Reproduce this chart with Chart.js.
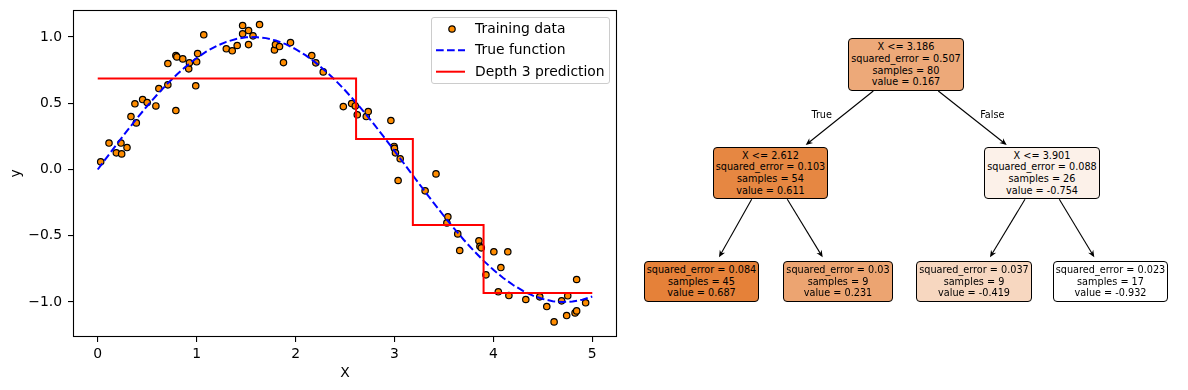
<!DOCTYPE html>
<html><head><meta charset="utf-8">
<script src="https://cdn.jsdelivr.net/npm/chart.js@4.4.0/dist/chart.umd.min.js"></script>
<style>
html,body{margin:0;padding:0;background:#fff;width:1188px;height:390px;overflow:hidden;font-family:"DejaVu Sans",sans-serif;}
#wrap{position:relative;width:1188px;height:390px;}
#c1{position:absolute;left:0;top:0;}
.legend{position:absolute;left:431px;top:17px;width:179px;height:67px;border:1px solid #cccccc;border-radius:3px;background:rgba(255,255,255,0.8);box-sizing:border-box;}
.legend svg{position:absolute;left:0;top:0;}
.legend .lt{position:absolute;left:43px;font-size:13.9px;line-height:16px;color:#000;white-space:nowrap;}
.node{position:absolute;box-sizing:border-box;border:1px solid #000;border-radius:4px;text-align:center;font-size:9.7px;line-height:11.7px;color:#000;display:flex;flex-direction:column;justify-content:center;white-space:nowrap;}
.edge-lbl{position:absolute;font-size:9.7px;line-height:12px;color:#000;transform:translate(-50%,-50%);white-space:nowrap;}
#tree{position:absolute;left:0;top:0;}
</style>
</head>
<body>
<div id="wrap">
  <canvas id="c1" width="630" height="390"></canvas>
  <div class="legend" id="legend"></div>
  <svg id="tree" width="1188" height="390"></svg>
</div>
<script>
// ---------- data ----------
const trainX = [0.03,0.114,0.188,0.235,0.242,0.296,0.336,0.376,0.39,0.454,0.50,0.588,0.618,0.709,0.709,0.79,0.79,0.80,0.86,0.92,0.927,0.991,1.00,1.01,1.072,1.30,1.36,1.41,1.465,1.465,1.525,1.525,1.57,1.636,1.787,1.797,1.838,1.878,1.949,2.164,2.205,2.28,2.483,2.567,2.604,
  2.624,2.715,2.735,2.964,2.997,3.0,3.01,3.037,3.058,
  3.31,3.42,3.53,3.54,3.64,3.66,3.854,3.864,3.878,
  3.925,4.005,4.05,4.076,4.146,4.157,4.328,4.469,4.54,4.614,4.69,4.741,4.752,4.826,4.842,4.842,4.933];
const trainY = [0.058,0.20,0.126,0.20,0.118,0.166,0.40,0.496,0.352,0.528,0.506,0.48,0.611,0.639,0.80,0.445,0.86,0.85,0.835,0.76,0.805,0.632,0.813,0.875,1.017,0.911,0.896,0.936,1.087,1.024,1.049,0.943,1.009,1.094,0.903,0.943,0.928,0.807,0.958,0.86,0.805,0.737,0.475,0.498,0.48,
  0.413,0.40,0.438,0.37,0.174,0.16,0.126,-0.083,0.081,
  -0.161,-0.033,-0.403,-0.357,-0.486,-0.611,-0.538,-0.579,-0.591,
  -0.795,-0.621,-0.923,-0.74,-0.621,-0.951,-0.981,-0.961,-1.034,-1.15,-0.991,-1.102,-0.953,-1.082,-1.067,-0.83,-1.006];
const trueX = [0,0.1,0.2,0.3,0.4,0.5,0.6,0.7,0.8,0.9,1.0,1.1,1.2,1.3,1.4,1.5,1.6,1.7,1.8,1.9,2.0,2.1,2.2,2.3,2.4,2.5,2.6,2.7,2.8,2.9,3.0,3.1,3.2,3.3,3.4,3.5,3.6,3.7,3.8,3.9,4.0,4.1,4.2,4.3,4.4,4.5,4.6,4.7,4.8,4.9,5.0];
const trueY = [0,0.0998,0.1987,0.2955,0.3894,0.4794,0.5646,0.6442,0.7174,0.7833,0.8415,0.8912,0.9320,0.9636,0.9854,0.9975,0.9996,0.9917,0.9738,0.9463,0.9093,0.8632,0.8085,0.7457,0.6755,0.5985,0.5155,0.4274,0.3350,0.2392,0.1411,0.0416,-0.0584,-0.1577,-0.2555,-0.3508,-0.4425,-0.5298,-0.6119,-0.6878,-0.7568,-0.8183,-0.8716,-0.9162,-0.9516,-0.9775,-0.9937,-0.9999,-0.9962,-0.9825,-0.9589];
const predX = [0, 2.612, 3.186, 3.901, 5];
const predY = [0.687, 0.231, -0.419, -0.932, -0.932];
const xTicks = [0,1,2,3,4,5];
const yTicks = [-1.0,-0.5,0.0,0.5,1.0];
const seriesNames = ['Training data','True function','Depth 3 prediction'];

// tree data (node order: root, left, right, leaf LL, leaf LR, leaf RL, leaf RR)
const nodeThreshold = [3.186, 2.612, 3.901, null, null, null, null];
const nodeError = [0.507, 0.103, 0.088, 0.084, 0.03, 0.037, 0.023];
const nodeSamples = [80, 54, 26, 45, 9, 9, 17];
const nodeValue = [0.167, 0.611, -0.754, 0.687, 0.231, -0.419, -0.932];
const edgeLabels = ['True','False'];

// ---------- left chart ----------
const FONT = 'DejaVu Sans';
Chart.defaults.font.family = FONT;
const frame = {
  id:'frame',
  afterDatasetsDraw(chart){
    const a = chart.chartArea, c = chart.ctx;
    c.save(); c.strokeStyle='#000'; c.lineWidth=1.1;
    c.strokeRect(Math.round(a.left)+0.5, Math.round(a.top)+0.5, Math.round(a.right-a.left)-1, Math.round(a.bottom-a.top)-1);
    c.restore();
  }
};
const tickFont = {family:FONT, size:13.9};
new Chart(document.getElementById('c1'), {
  type:'scatter',
  data:{datasets:[
    {type:'scatter', label:seriesNames[0], data:trainX.map((x,i)=>({x:x,y:trainY[i]})),
     backgroundColor:'#ff8c00', borderColor:'#000', borderWidth:1.2, pointRadius:3.2, pointHoverRadius:3.2, order:2},
    {type:'line', label:seriesNames[1], data:trueX.map((x,i)=>({x:x,y:trueY[i]})),
     borderColor:'#0000ff', borderWidth:2, borderDash:[7.7,3.3], pointRadius:0, fill:false, tension:0, order:1},
    {type:'line', label:seriesNames[2], data:predX.map((x,i)=>({x:x,y:predY[i]})),
     borderColor:'#ff0000', borderWidth:2, stepped:'before', pointRadius:0, fill:false, order:0}
  ]},
  options:{
    responsive:false, animation:false, devicePixelRatio:1,
    layout:{padding:{top:10,right:13,left:0,bottom:0}},
    plugins:{legend:{display:false}, tooltip:{enabled:false}},
    events:[],
    scales:{
      x:{type:'linear', position:'bottom', min:-0.25, max:5.25,
         afterBuildTicks:s=>{s.ticks = xTicks.map(v=>({value:v}));},
         afterFit:s=>{s.height = 53; s.paddingLeft = 0; s.paddingRight = 0;},
         grid:{drawOnChartArea:false, drawTicks:true, tickLength:5, color:'#000', lineWidth:1.1},
         border:{display:false},
         ticks:{color:'#000', font:tickFont, padding:4, maxRotation:0, autoSkip:false, callback:v=>String(v)},
         title:{display:true, text:'X', color:'#000', font:tickFont, padding:{top:0,bottom:8}}},
      y:{type:'linear', position:'left', min:-1.264, max:1.204,
         afterBuildTicks:s=>{s.ticks = yTicks.map(v=>({value:v}));},
         afterFit:s=>{s.width = 73; s.paddingTop = 0; s.paddingBottom = 0;},
         grid:{drawOnChartArea:false, drawTicks:true, tickLength:5, color:'#000', lineWidth:1.1},
         border:{display:false},
         ticks:{color:'#000', font:tickFont, padding:6, autoSkip:false, callback:v=>(v<0?'\u2212':'')+Math.abs(v).toFixed(1)},
         title:{display:true, text:'y', color:'#000', font:tickFont, padding:{top:8,bottom:0}}}
    }
  },
  plugins:[frame]
});

// ---------- legend (HTML) ----------
(function(){
  const lg = document.getElementById('legend');
  const rows = [11, 32.3, 53.7];
  let svg = '<svg width="179" height="67">';
  svg += '<circle cx="20" cy="'+rows[0]+'" r="3.2" fill="#ff8c00" stroke="#000" stroke-width="1.2"/>';
  svg += '<line x1="4" y1="'+rows[1]+'" x2="33" y2="'+rows[1]+'" stroke="#0000ff" stroke-width="2" stroke-dasharray="7.7 3.3"/>';
  svg += '<line x1="4" y1="'+rows[2]+'" x2="33" y2="'+rows[2]+'" stroke="#ff0000" stroke-width="2"/>';
  svg += '</svg>';
  let html = svg;
  seriesNames.forEach((n,i)=>{ html += '<div class="lt" style="top:'+(rows[i]-8-1)+'px">'+n+'</div>'; });
  lg.innerHTML = html;
})();

// ---------- tree (HTML + SVG) ----------
(function(){
  const vmin = Math.min(...nodeValue), vmax = Math.max(...nodeValue);
  const base = [229,129,57];
  function col(v){
    const a = (v - vmin)/(vmax - vmin);
    const c = base.map(ch=>Math.round(a*ch + (1-a)*255));
    return 'rgb('+c.join(',')+')';
  }
  // layout boxes: [left, top, width, height]
  const boxes = [
    [848,38,116,53],[713,147,115,52],[984,147,116,52],
    [644,261,115,41],[783,261,110,41],[916,261,116,41],[1053,261,115,41]
  ];
  const wrap = document.getElementById('wrap');
  boxes.forEach((b,i)=>{
    const d = document.createElement('div');
    d.className='node';
    d.style.left=b[0]+'px'; d.style.top=b[1]+'px'; d.style.width=b[2]+'px'; d.style.height=b[3]+'px';
    d.style.background = col(nodeValue[i]);
    const lines = [];
    if(nodeThreshold[i]!==null) lines.push('X &lt;= '+nodeThreshold[i]);
    lines.push('squared_error = '+nodeError[i]);
    lines.push('samples = '+nodeSamples[i]);
    lines.push('value = '+nodeValue[i]);
    d.innerHTML = lines.map(l=>'<div>'+l+'</div>').join('');
    wrap.appendChild(d);
  });
  const edges = [
    [873.3,91,805.7,145],[938.3,91,1006.7,145],
    [751.7,199.3,719,257.3],[787.3,199.3,822.7,257.3],
    [1025,199.3,990,257.3],[1059.3,199.3,1094.3,257.3]
  ];
  const svg = document.getElementById('tree');
  let s = '';
  edges.forEach(e=>{
    const [x1,y1,x2,y2]=e;
    const dx=x2-x1, dy=y2-y1, L=Math.hypot(dx,dy), ux=dx/L, uy=dy/L;
    const hl=7, hw=3;
    const bx=x2-ux*hl, by=y2-uy*hl;
    s += '<line x1="'+x1+'" y1="'+y1+'" x2="'+(x2-ux*2)+'" y2="'+(y2-uy*2)+'" stroke="#000" stroke-width="1.1"/>';
    s += '<polygon points="'+x2+','+y2+' '+(bx-uy*hw)+','+(by+ux*hw)+' '+(bx+ux*2.2)+','+(by+uy*2.2)+' '+(bx+uy*hw)+','+(by-ux*hw)+'" fill="#000"/>';
  });
  svg.innerHTML = s;
  const lblPos = [[821.7,115.3],[992.3,115.3]];
  edgeLabels.forEach((t,i)=>{
    const d=document.createElement('div'); d.className='edge-lbl';
    d.style.left=lblPos[i][0]+'px'; d.style.top=lblPos[i][1]+'px'; d.textContent=t;
    wrap.appendChild(d);
  });
})();
</script>
</body></html>
